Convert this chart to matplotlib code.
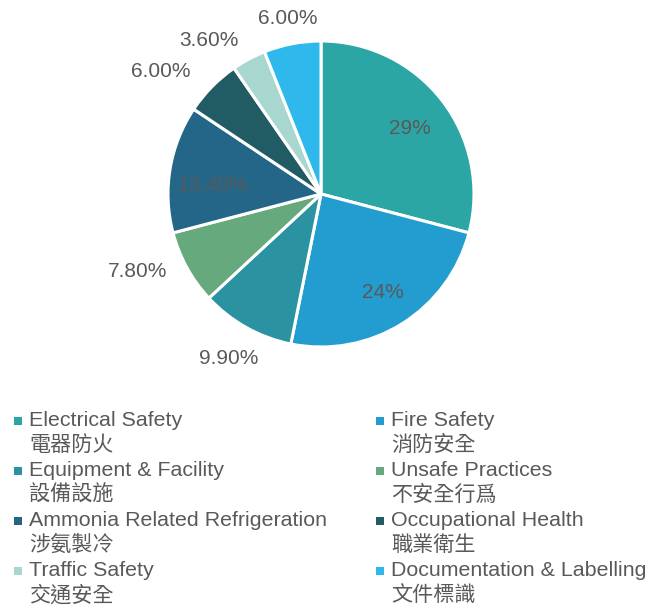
import numpy as np
import matplotlib
matplotlib.use("Agg")
import matplotlib.pyplot as plt

plt.rcParams["font.family"] = ["Liberation Sans", "Noto Sans CJK TC", "DejaVu Sans"]

categories_en = ["Electrical Safety", "Fire Safety", "Equipment & Facility", "Unsafe Practices",
                 "Ammonia Related Refrigeration", "Occupational Health", "Traffic Safety",
                 "Documentation & Labelling"]
categories_zh = ["電器防火", "消防安全", "設備設施", "不安全行爲", "涉氨製冷", "職業衛生", "交通安全", "文件標識"]
values = [29, 24, 9.9, 7.8, 13.4, 6.0, 3.6, 6.0]
value_labels = ["29%", "24%", "9.90%", "7.80%", "13.40%", "6.00%", "3.60%", "6.00%"]
colors = ["#2CA6A5", "#239DD0", "#2A92A0", "#66A97C", "#236687", "#215C64", "#A8D7D0", "#2EB8EC"]

# label placement: distance (fraction of radius) and angular nudge (deg)
label_dist = [0.72, 0.76, 1.23, 1.30, 0.71, 1.32, 1.24, 1.17]
label_nudge = [-1, 0, 0, -6, 5, 7, 8, 0]

W, H = 651, 609
fig = plt.figure(figsize=(W / 100, H / 100), dpi=100)
ax = fig.add_axes([0, 0, 1, 1])

cx, cy, R = 321, H - 194, 153
wedges, _ = ax.pie(values, colors=colors, startangle=90, counterclock=False,
                   center=(cx, cy), radius=R, frame=True,
                   wedgeprops=dict(edgecolor="white", linewidth=2.2))
ax.set_xlim(0, W)
ax.set_ylim(0, H)
ax.axis("off")

for w, lab, d, n in zip(wedges, value_labels, label_dist, label_nudge):
    ang = np.deg2rad((w.theta1 + w.theta2) / 2 + n)
    ax.text(cx + d * R * np.cos(ang), cy + d * R * np.sin(ang), lab,
            ha="center", va="center", fontsize=15, color="#595959")

# legend, two columns
col_x = [29, 391]
row_y0, row_step, line_step = 421, 50, 24
for i, (en, zh, c) in enumerate(zip(categories_en, categories_zh, colors)):
    x = col_x[i % 2]
    y = row_y0 + (i // 2) * row_step
    ax.add_patch(plt.Rectangle((x - 15, H - y - 4), 8, 8, color=c, lw=0))
    ax.text(x, H - y, en, ha="left", va="center", fontsize=15.4, color="#595959")
    ax.text(x, H - y - line_step, zh, ha="left", va="center", fontsize=15.2, color="#595959")

fig.savefig("out.png", dpi=100)
